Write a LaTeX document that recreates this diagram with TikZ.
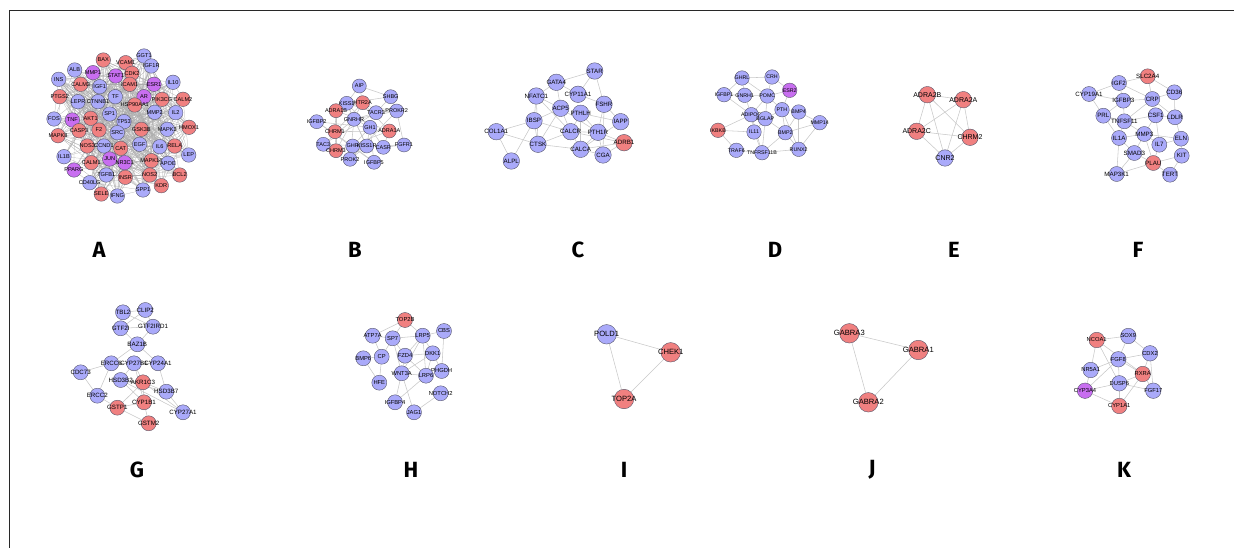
\documentclass[tikz,border=0pt]{standalone}
\usepackage{fontspec}
\setmainfont{Liberation Sans}
\newfontfamily\letterfont{Fira Sans}
\usetikzlibrary{backgrounds}

\definecolor{gb}{RGB}{170,170,250}
\definecolor{gr}{RGB}{240,128,128}
\definecolor{gp}{RGB}{200,110,240}
\definecolor{rim}{RGB}{85,85,105}
\definecolor{linkc}{RGB}{200,200,200}
\definecolor{densec}{RGB}{172,172,172}
\definecolor{framec}{RGB}{40,40,40}

\tikzset{
  gene/.style={circle, draw=rim, line width=0.4pt, fill=#1, inner sep=0pt,
    minimum size=\gsize},
  link/.style={draw=linkc, line width=0.55pt},
  denselink/.style={draw=densec, line width=0.22pt},
  panel/.style={font=\letterfont\bfseries\fontsize{22}{22}\selectfont, inner sep=0pt},
  glabel/.style={font=\gfont, inner sep=0pt, text=black},
}

\begin{document}
\begin{tikzpicture}[x=1pt,y=-1pt]
\useasboundingbox (0,0) rectangle (1234,548);
\draw[framec, line width=0.9pt] (9,548) -- (9,10) -- (1234,10);

% ---------- network A ----------
\begin{scope}
\def\gsize{14.5pt}\def\gfont{\fontsize{5.6}{6}\selectfont}
\foreach \n/\x/\y/\c in {
 BAX/103.3/60/gr, VCAM1/125.7/62.7/gr, GGT1/144/56/gb, IGF1R/151.3/66/gb,
 ALB/74.7/70/gb, MMP1/93/72.7/gp, STAT1/115.7/76/gp, CDK2/132/73.3/gr,
 INS/58.7/79.3/gb, CALM3/80.7/84.3/gr, IGF1/99.7/86.7/gb, ICAM1/129.7/84.3/gr,
 ESR1/154/84.3/gp, IL10/173/82.3/gb, PTGS2/59.7/96.7/gr, LEPR/78/101.7/gb,
 CTNNB1/98/101.7/gb, TF/115.3/96.7/gb, AR/144/96.7/gp, PIK3CG/162/99.3/gr,
 CALM2/183/99.3/gr, HSP90AA1/134.7/105/gr, MMP2/154.7/112.3/gb, IL2/175.7/112.7/gb,
 FOS/54/119/gb, TNF/72.3/120/gp, AKT1/90.7/118.3/gr, SP1/109.7/114/gb,
 TP53/124/121.7/gb, HMOX1/189/127.3/gr, MAPK8/58/135.7/gr, CASP3/79/130.7/gr,
 F2/99/130/gr, GSK3B/141.3/129.3/gr, MAPK3/167.3/129.3/gb, SRC/117.3/132.7/gb,
 NOS3/87.3/146/gr, CCND1/104/146/gb, CAT/120.7/148.3/gr, EGF/139.7/144.3/gb,
 IL6/159.7/146.7/gb, RELA/174.7/146/gr, LEP/188.7/155/gb, IL1B/64/156.7/gb,
 JUN/109.7/159/gp, NR3C1/124.7/162.7/gp, MAPK14/151.3/160.7/gr, APOE/168/163.3/gb,
 CALM1/91.3/162.7/gr, PPARG/74/170/gp, TGFB1/106.3/175/gb, NOS2/149.7/175/gr,
 BCL2/179.7/175/gr, CD40LG/89.7/182.7/gb, INSR/125.3/177.3/gr, KDR/161.3/185.7/gr,
 SELE/101.3/194/gr, IFNG/117.3/196/gb, SPP1/143/190/gb}
  \node[gene=\c, label={[glabel]center:\n}] (A\n) at (\x,\y) {};
\def\Alist{BAX,VCAM1,GGT1,IGF1R,ALB,MMP1,STAT1,CDK2,INS,CALM3,IGF1,ICAM1,ESR1,IL10,
 PTGS2,LEPR,CTNNB1,TF,AR,PIK3CG,CALM2,HSP90AA1,MMP2,IL2,FOS,TNF,AKT1,SP1,TP53,HMOX1,
 MAPK8,CASP3,F2,GSK3B,MAPK3,SRC,NOS3,CCND1,CAT,EGF,IL6,RELA,LEP,IL1B,JUN,NR3C1,MAPK14,
 APOE,CALM1,PPARG,TGFB1,NOS2,BCL2,CD40LG,INSR,KDR,SELE,IFNG,SPP1}
\begin{pgfonlayer}{background}
\pgfmathsetseed{11}
\foreach \u [count=\i] in \Alist {
  \foreach \v [count=\j] in \Alist {
    \ifnum\j>\i
      \pgfmathtruncatemacro\keep{rnd<0.3}
      \ifnum\keep=1 \draw[denselink] (A\u) -- (A\v); \fi
    \fi
  }
}
\end{pgfonlayer}
\end{scope}

% ---------- network B ----------
\begin{scope}
\def\gsize{14pt}\def\gfont{\fontsize{5.5}{6}\selectfont}
\foreach \n/\x/\y/\c in {
 AIP/359.3/86/gb, SHBG/390.7/96.7/gb, KISS1/346.7/103.3/gb, HTR2A/362.7/102.7/gr,
 ADRA1B/336/110.7/gr, TACR3/376/112.7/gb, PROKR2/396.7/111/gb, IGFBP2/316.7/121.7/gb,
 GNRHR/354/119.3/gb, GH1/370/127.3/gb, ADRA1A/389.3/131/gr, CHRM1/335/131.7/gr,
 GHR/352.7/146/gb, TAC3/323.3/144.3/gb, KISS1R/366.7/146/gb, CASR/383.3/147.3/gb,
 FGFR1/404/145/gb, CHRM3/336/150.7/gr, PROK2/350/159.3/gb, IGFBP5/374/162.3/gb}
  \node[gene=\c, label={[glabel]center:\n}] (B\n) at (\x,\y) {};
\begin{pgfonlayer}{background}
\foreach \u/\v in {AIP/KISS1, AIP/SHBG, AIP/HTR2A, SHBG/TACR3, SHBG/PROKR2, SHBG/KISS1,
 KISS1/GNRHR, KISS1/KISS1R, KISS1/TACR3, KISS1/GH1, HTR2A/ADRA1B, HTR2A/CHRM1,
 HTR2A/ADRA1A, HTR2A/CHRM3, ADRA1B/ADRA1A, ADRA1B/CHRM1, ADRA1B/CHRM3, ADRA1A/CHRM1,
 ADRA1A/CHRM3, CHRM1/CHRM3, TACR3/TAC3, TACR3/PROKR2, TACR3/GNRHR, GNRHR/GH1,
 GNRHR/KISS1R, GNRHR/PROKR2, GNRHR/PROK2, GNRHR/TAC3, GH1/GHR, GH1/IGFBP5, GH1/KISS1R,
 GH1/IGFBP2, GHR/IGFBP2, GHR/IGFBP5, KISS1R/TAC3, KISS1R/PROK2, CASR/FGFR1, CASR/GH1,
 PROKR2/PROK2, PROKR2/FGFR1, FGFR1/KISS1R, IGFBP2/IGFBP5, ADRA1A/CASR, KISS1/PROKR2}
  \draw[link] (B\u) -- (B\v);
\end{pgfonlayer}
\end{scope}

% ---------- network C ----------
\begin{scope}
\def\gsize{16.5pt}\def\gfont{\fontsize{6.2}{7}\selectfont}
\foreach \n/\x/\y/\c in {
 STAR/594.7/71/gb, GATA4/556.3/82.3/gb, CYP11A1/578/94.3/gb, NFATC1/536.3/96/gb,
 FSHR/604/104.3/gb, ACP5/560.7/108.3/gb, PTHLH/580.7/113.3/gb, IBSP/534/120.7/gb,
 IAPP/620.7/121.7/gb, COL1A1/496.3/131.7/gb, CALCR/570.7/131.7/gb, PTH1R/598/132.3/gb,
 ADRB1/624/142.7/gr, CTSK/538/144.3/gb, CALCA/580.7/149.3/gb, CGA/603/155/gb,
 ALPL/511.3/161/gb}
  \node[gene=\c, label={[glabel]center:\n}] (C\n) at (\x,\y) {};
\begin{pgfonlayer}{background}
\foreach \u/\v in {STAR/GATA4, STAR/CYP11A1, STAR/FSHR, GATA4/NFATC1, GATA4/CYP11A1,
 GATA4/ACP5, NFATC1/IBSP, NFATC1/ACP5, NFATC1/CTSK, NFATC1/CALCR, ACP5/IBSP, ACP5/CTSK,
 ACP5/CALCR, ACP5/PTH1R, IBSP/COL1A1, IBSP/CTSK, IBSP/CALCR, IBSP/ALPL, COL1A1/ALPL,
 COL1A1/CTSK, CTSK/CALCR, CTSK/CALCA, CALCR/CALCA, CALCR/PTH1R, CALCR/ADRB1, PTHLH/PTH1R,
 PTHLH/CALCR, PTHLH/CALCA, PTHLH/IAPP, CYP11A1/FSHR, FSHR/CGA, FSHR/PTH1R, FSHR/IAPP,
 PTH1R/CALCA, PTH1R/ADRB1, PTH1R/CGA, CALCA/ADRB1, CALCA/IAPP, CALCA/CGA, CGA/ADRB1}
  \draw[link] (C\u) -- (C\v);
\end{pgfonlayer}
\end{scope}

% ---------- network D ----------
\begin{scope}
\def\gsize{14.5pt}\def\gfont{\fontsize{5.3}{6}\selectfont}
\foreach \n/\x/\y/\c in {
 GHRL/742/78/gb, CRH/772/77/gb, ESR2/789.7/90.3/gp, IGFBP1/724/94.7/gb,
 GNRH1/744.7/95.3/gb, POMC/767.3/96/gb, PTH/782/109.7/gb, BMP4/798.7/112/gb,
 ADIPOQ/751.3/114.7/gb, BGLAP/765.3/118.7/gb, MMP14/819.7/122.7/gb, IKBKB/718/130.3/gr,
 IL11/754/132/gb, BMP2/785.3/132.7/gb, RUNX2/798.7/149.3/gb, TRAF6/736.3/150.3/gb,
 TNFRSF11B/762/152.7/gb}
  \node[gene=\c, label={[glabel]center:\n}] (D\n) at (\x,\y) {};
\begin{pgfonlayer}{background}
\foreach \u/\v in {GHRL/CRH, GHRL/GNRH1, GHRL/POMC, GHRL/IGFBP1, CRH/POMC, CRH/ESR2,
 IGFBP1/GNRH1, IGFBP1/ADIPOQ, GNRH1/POMC, GNRH1/ADIPOQ, POMC/PTH, POMC/ESR2, POMC/ADIPOQ,
 POMC/BGLAP, ESR2/PTH, PTH/BMP4, PTH/BMP2, PTH/BGLAP, PTH/RUNX2, BMP4/BMP2, BMP4/RUNX2,
 BMP4/MMP14, BMP2/MMP14, BMP2/RUNX2, BGLAP/BMP2, BGLAP/IL11, BGLAP/TNFRSF11B,
 BGLAP/ADIPOQ, ADIPOQ/IKBKB, ADIPOQ/IL11, IKBKB/TRAF6, TRAF6/TNFRSF11B, IL11/TNFRSF11B,
 TNFRSF11B/BMP2, TNFRSF11B/RUNX2, MMP14/RUNX2, ADIPOQ/TNFRSF11B, IKBKB/IL11}
  \draw[link] (D\u) -- (D\v);
\end{pgfonlayer}
\end{scope}

% ---------- network E ----------
\begin{scope}
\def\gsize{16.5pt}\def\gfont{\fontsize{7}{8}\selectfont}
\foreach \n/\x/\y/\c in {
 ADRA2B/927.3/94.7/gr, ADRA2A/963.3/99.7/gr, ADRA2C/916.7/131.3/gr,
 CHRM2/970/137.3/gr, CNR2/945/158/gb}
  \node[gene=\c, label={[glabel]center:\n}] (E\n) at (\x,\y) {};
\begin{pgfonlayer}{background}
\foreach \u/\v in {ADRA2B/ADRA2A, ADRA2B/ADRA2C, ADRA2B/CHRM2, ADRA2B/CNR2,
 ADRA2A/ADRA2C, ADRA2A/CHRM2, ADRA2A/CNR2, ADRA2C/CHRM2, ADRA2C/CNR2, CHRM2/CNR2}
  \draw[link] (E\u) -- (E\v);
\end{pgfonlayer}
\end{scope}

% ---------- network F ----------
\begin{scope}
\def\gsize{15pt}\def\gfont{\fontsize{6.2}{7}\selectfont}
\foreach \n/\x/\y/\c in {
 SLC2A4/1147.7/76.3/gr, IGF2/1119/83/gb, CYP19A1/1089/94/gb, CD36/1174.3/92.3/gb,
 CRP/1152.3/99/gb, IGFBP3/1123.3/100.7/gb, PRL/1103.3/115.7/gb, TNFSF11/1124.3/121.3/gb,
 CSF1/1155.7/115.3/gb, LDLR/1175/117.3/gb, MMP3/1144.3/134/gb, IL1A/1119/138/gb,
 IL7/1159.3/144.7/gb, ELN/1181/138.7/gb, SMAD3/1134.3/153/gb, KIT/1181.7/155.7/gb,
 PLAU/1153.3/163/gr, MAP3K1/1116.7/174/gb, TERT/1170/174.7/gb}
  \node[gene=\c, label={[glabel]center:\n}] (F\n) at (\x,\y) {};
\begin{pgfonlayer}{background}
\foreach \u/\v in {SLC2A4/IGF2, SLC2A4/CRP, SLC2A4/CD36, IGF2/IGFBP3, IGF2/CYP19A1,
 IGF2/CRP, CYP19A1/IGFBP3, CYP19A1/PRL, IGFBP3/PRL, IGFBP3/TNFSF11, IGFBP3/CRP, CRP/CD36,
 CRP/CSF1, CRP/TNFSF11, CRP/LDLR, CD36/LDLR, PRL/TNFSF11, PRL/IL1A, TNFSF11/CSF1,
 TNFSF11/MMP3, TNFSF11/IL1A, CSF1/MMP3, CSF1/IL7, CSF1/LDLR, LDLR/ELN, MMP3/IL1A,
 MMP3/IL7, MMP3/SMAD3, MMP3/PLAU, MMP3/ELN, IL1A/SMAD3, IL7/PLAU, IL7/ELN, SMAD3/PLAU,
 SMAD3/MAP3K1, PLAU/TERT, PLAU/MAP3K1, KIT/TERT, KIT/PLAU, ELN/KIT, IL1A/MAP3K1}
  \draw[link] (F\u) -- (F\v);
\end{pgfonlayer}
\end{scope}

% ---------- network G ----------
\begin{scope}
\def\gsize{15pt}\def\gfont{\fontsize{6.2}{7}\selectfont}
\foreach \n/\x/\y/\c in {
 TBL2/123/312.3/gb, CLIP2/145.3/310/gb, GTF2I/120.7/328.3/gb, GTF2IRD1/153/326.7/gb,
 BAZ1B/137.3/344.3/gb, ERCC6/111.3/363.3/gb, CYP27B1/134/363.3/gb, CYP24A1/158/363.3/gb,
 CDC73/80.7/372.3/gb, HSD3B2/120.7/380/gb, AKR1C3/143/382.3/gr, HSD3B7/166.3/391.7/gb,
 ERCC2/97.3/395.7/gb, CYP1B1/144/402.3/gr, GSTP1/117.3/407.7/gr, CYP27A1/183/412.3/gb,
 GSTM2/148.7/423.3/gr}
  \node[gene=\c, label={[glabel]center:\n}] (G\n) at (\x,\y) {};
\begin{pgfonlayer}{background}
\foreach \u/\v in {TBL2/CLIP2, TBL2/GTF2I, TBL2/GTF2IRD1, CLIP2/GTF2I, CLIP2/GTF2IRD1,
 GTF2I/GTF2IRD1, GTF2I/BAZ1B, GTF2IRD1/BAZ1B, BAZ1B/ERCC6, BAZ1B/CYP24A1, ERCC6/CDC73,
 ERCC6/ERCC2, ERCC6/CYP27B1, CYP27B1/CYP24A1, CYP27B1/HSD3B2, CYP27B1/AKR1C3,
 CYP27B1/CYP1B1, CYP24A1/HSD3B7, CDC73/ERCC2, HSD3B2/AKR1C3, HSD3B2/HSD3B7, HSD3B2/CYP1B1,
 HSD3B2/CYP27A1, AKR1C3/GSTP1, AKR1C3/CYP27A1, AKR1C3/HSD3B7, ERCC2/GSTP1, GSTP1/CYP1B1,
 GSTP1/GSTM2, CYP1B1/GSTM2, CYP1B1/AKR1C3, HSD3B7/CYP27A1}
  \draw[link] (G\u) -- (G\v);
\end{pgfonlayer}
\end{scope}

% ---------- network H ----------
\begin{scope}
\def\gsize{15pt}\def\gfont{\fontsize{5.8}{6.5}\selectfont}
\foreach \n/\x/\y/\c in {
 TOP2B/405/320/gr, CBS/444/331/gb, ATP7A/372.7/335.7/gb, SP7/392.7/338.3/gb,
 LRP5/422.7/335.7/gb, BMP6/363.3/358.3/gb, CP/381.7/356.7/gb, FZD4/405/355.7/gb,
 DKK1/432.7/353.3/gb, PHGDH/441.7/371/gb, WNT3A/401.7/373.3/gb, LRP6/426/375.7/gb,
 HFE/379.3/382.7/gb, NOTCH2/440.7/393.3/gb, IGFBP4/395/402.3/gb, JAG1/414/412.3/gb}
  \node[gene=\c, label={[glabel]center:\n}] (H\n) at (\x,\y) {};
\begin{pgfonlayer}{background}
\foreach \u/\v in {TOP2B/SP7, TOP2B/LRP5, TOP2B/ATP7A, LRP5/CBS, LRP5/SP7, LRP5/FZD4,
 LRP5/DKK1, LRP5/WNT3A, LRP5/LRP6, CBS/PHGDH, ATP7A/CP, ATP7A/SP7, SP7/CP, SP7/WNT3A,
 BMP6/CP, BMP6/HFE, CP/HFE, FZD4/WNT3A, FZD4/DKK1, FZD4/LRP6, DKK1/LRP6, DKK1/WNT3A,
 WNT3A/LRP6, WNT3A/IGFBP4, WNT3A/JAG1, LRP6/IGFBP4, LRP6/PHGDH, NOTCH2/JAG1,
 DKK1/PHGDH, SP7/FZD4}
  \draw[link] (H\u) -- (H\v);
\end{pgfonlayer}
\end{scope}

% ---------- network I ----------
\begin{scope}
\def\gsize{19.5pt}\def\gfont{\fontsize{7.6}{8.5}\selectfont}
\foreach \n/\x/\y/\c in {POLD1/606.7/334.3/gb, CHEK1/670.7/352.3/gr, TOP2A/624/399/gr}
  \node[gene=\c, label={[glabel]center:\n}] (I\n) at (\x,\y) {};
\begin{pgfonlayer}{background}
\foreach \u/\v in {POLD1/CHEK1, POLD1/TOP2A, CHEK1/TOP2A}
  \draw[link] (I\u) -- (I\v);
\end{pgfonlayer}
\end{scope}

% ---------- network J ----------
\begin{scope}
\def\gsize{19.5pt}\def\gfont{\fontsize{7.6}{8.5}\selectfont}
\foreach \n/\x/\y/\c in {GABRA3/849.3/333.3/gr, GABRA1/918.3/350/gr, GABRA2/868.3/402.3/gr}
  \node[gene=\c, label={[glabel]center:\n}] (J\n) at (\x,\y) {};
\begin{pgfonlayer}{background}
\foreach \u/\v in {GABRA3/GABRA1, GABRA3/GABRA2, GABRA1/GABRA2}
  \draw[link] (J\u) -- (J\v);
\end{pgfonlayer}
\end{scope}

% ---------- network K ----------
\begin{scope}
\def\gsize{15.5pt}\def\gfont{\fontsize{5.8}{6.5}\selectfont}
\foreach \n/\x/\y/\c in {
 NCOA1/1096.7/340/gr, SOX9/1128.3/336/gb, CDX2/1150/353.3/gb, FGF8/1118.3/359.3/gb,
 NR5A1/1090.7/370/gb, RXRA/1142.7/374/gr, DUSP6/1119.3/383.3/gb, CYP3A4/1085/390.7/gp,
 FGF17/1153.3/390.7/gb, CYP1A1/1119.3/406/gr}
  \node[gene=\c, label={[glabel]center:\n}] (K\n) at (\x,\y) {};
\begin{pgfonlayer}{background}
\foreach \u/\v in {NCOA1/SOX9, NCOA1/NR5A1, NCOA1/RXRA, NCOA1/DUSP6, SOX9/FGF8, SOX9/CDX2,
 FGF8/CDX2, FGF8/RXRA, FGF8/DUSP6, FGF8/NR5A1, CDX2/FGF17, CDX2/RXRA, RXRA/DUSP6,
 RXRA/CYP1A1, RXRA/FGF17, DUSP6/CYP3A4, DUSP6/CYP1A1, DUSP6/FGF17, CYP3A4/CYP1A1,
 CYP3A4/NR5A1, CYP3A4/FGF8}
  \draw[link] (K\u) -- (K\v);
\end{pgfonlayer}
\end{scope}

% ---------- panel letters ----------
\node[panel] (pA) at (99,250) {A};
\node[panel] (pB) at (355,250) {B};
\node[panel] (pC) at (578,250) {C};
\node[panel] (pD) at (775,250) {D};
\node[panel] (pE) at (954,250) {E};
\node[panel] (pF) at (1138,250) {F};
\node[panel] (pG) at (137,470) {G};
\node[panel] (pH) at (411,470) {H};
\node[panel] (pI) at (624,470) {I};
\node[panel] (pJ) at (872,470) {J};
\node[panel] (pK) at (1124,470) {K};
\end{tikzpicture}
\end{document}
